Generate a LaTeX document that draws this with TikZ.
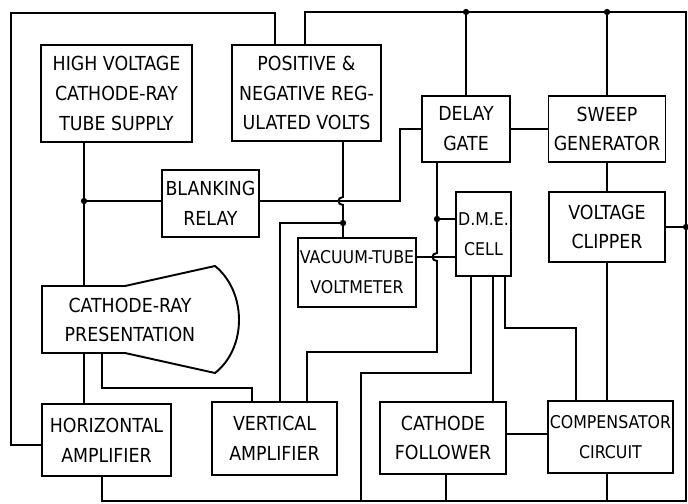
\documentclass[tikz,border=0pt]{standalone}
\usepackage{fontspec}
\setmainfont{DejaVu Sans Condensed}
\usetikzlibrary{calc}

\tikzset{
  blockbox/.style 2 args={draw, align=center, inner sep=1pt,
    minimum width=#1*0.02cm, minimum height=#2*0.02cm,
    font=\fontsize{11}{17}\selectfont},
  smalltext/.style={font=\fontsize{10}{17}\selectfont},
  jdot/.style={circle, fill, inner sep=0pt, minimum size=3.6pt},
}

\begin{document}
\begin{tikzpicture}[x=0.02cm, y=-0.02cm, line width=1.1pt]
  \useasboundingbox (0,0) rectangle (688,503);

  % blocks
  \node[blockbox={151}{97}] (hvs) at (116.5,93.5) {HIGH VOLTAGE\\CATHODE-RAY\\TUBE SUPPLY};
  \node[blockbox={149}{96}] (pnr) at (306.5,93) {POSITIVE \&\\NEGATIVE REG-\\ULATED VOLTS};
  \node[blockbox={88}{66}]  (dly) at (466,129) {DELAY\\GATE};
  \node[blockbox={117}{66}] (swp) at (607,129) {SWEEP\\GENERATOR};
  \node[blockbox={97}{67}]  (blk) at (210.5,203.5) {BLANKING\\RELAY};
  \node[blockbox={53}{84}, smalltext] (dme) at (483.5,234) {D.M.E.\\CELL};
  \node[blockbox={116}{70}] (clp) at (607,227) {VOLTAGE\\CLIPPER};
  \node[blockbox={110}{69}, smalltext] (vtv) at (357,272.5) {VACUUM-TUBE\\VOLTMETER};
  \node[blockbox={129}{72}] (hor) at (106.5,440) {HORIZONTAL\\AMPLIFIER};
  \node[blockbox={125}{73}] (ver) at (274.5,438.5) {VERTICAL\\AMPLIFIER};
  \node[blockbox={126}{72}] (cfl) at (443,438) {CATHODE\\FOLLOWER};
  \node[blockbox={125}{72}, smalltext] (cmp) at (610.5,437) {COMPENSATOR\\CIRCUIT};

  % cathode-ray tube outline
  \coordinate (c1) at (42,286);
  \coordinate (c2) at (125,286);
  \coordinate (c3) at (215,266);
  \coordinate (c4) at (215,373);
  \coordinate (c5) at (125,353);
  \coordinate (c6) at (42,353);
  \draw (c1) -- (c2) -- (c3) .. controls (247,292) and (247,348) .. (c4) -- (c5) -- (c6) -- cycle;
  \node[align=center, font=\fontsize{11}{17}\selectfont] (crt) at (130,320) {CATHODE-RAY\\PRESENTATION};

  % bends and junctions
  \coordinate (jhv) at (84,201);
  \coordinate (jpn) at (343,223);
  \coordinate (jvl) at (280,223);
  \coordinate (jdl) at (437,219);
  \coordinate (hop1) at (343,201);
  \coordinate (hop2) at (437,257);
  \coordinate (bk1) at (400,201);
  \coordinate (bk2) at (400,129);
  \coordinate (dv1) at (437,352);
  \coordinate (dv2) at (307,352);
  \coordinate (cr1) at (102,388);
  \coordinate (cr2) at (252,388);
  \coordinate (dm1) at (471,373);
  \coordinate (dm2) at (361,373);
  \coordinate (dm3) at (361,501);
  \coordinate (dm4) at (505,328);
  \coordinate (dm5) at (576,328);
  \coordinate (lp1) at (11,445);
  \coordinate (lp2) at (11,13);
  \coordinate (lp3) at (275,13);
  \coordinate (bs1) at (305,12);
  \coordinate (bs2) at (686,12);
  \coordinate (bs3) at (686,501);
  \coordinate (bs4) at (102,501);
  \coordinate (clr) at (686,227);

  % outer loop and supply bus
  \draw (hor.west |- lp1) -- (lp1) -- (lp2) -- (lp3) -- (pnr.north -| lp3);
  \draw (pnr.north -| bs1) -- (bs1) -- (bs2) -- (bs3) -- (bs4) -- (hor.south -| bs4);
  \draw (dly.north) -- (dly.north |- bs1);
  \draw (swp.north) -- (swp.north |- bs1);

  % supply side
  \draw (hvs.south -| jhv) -- (jhv) -- (jhv |- c1);
  \draw (jhv) -- (blk.west |- jhv);
  \draw (blk.east |- bk1) -- (bk1) -- (bk2) -- (dly.west |- bk2);
  \draw (pnr.south -| jpn) -- ($(hop1)+(0,-4)$) .. controls +(-6,0) and +(-6,0) .. ($(hop1)+(0,4)$) -- (jpn) -- (vtv.north -| jpn);
  \draw (jpn) -- (jvl) -- (ver.north -| jvl);

  % gate and D.M.E. cell
  \draw (dly.east) -- (swp.west);
  \draw (dly.south -| jdl) -- (jdl) -- ($(hop2)+(0,-4)$) .. controls +(-6,0) and +(-6,0) .. ($(hop2)+(0,4)$) -- (dv1) -- (dv2) -- (ver.north -| dv2);
  \draw (jdl) -- (dme.west |- jdl);
  \draw (vtv.east |- hop2) -- (dme.west |- hop2);
  \draw (dme.south -| dm1) -- (dm1) -- (dm2) -- (dm3);
  \draw (dme.south -| 493,0) -- (cfl.north -| 493,0);
  \draw (dme.south -| dm4) -- (dm4) -- (dm5) -- (cmp.north -| dm5);

  % sweep chain
  \draw (swp.south) -- (clp.north);
  \draw (clp.east) -- (clr);
  \draw (clp.south) -- (cmp.north -| clp.south);
  \draw (cfl.east |- 0,434) -- (cmp.west |- 0,434);
  \draw (cfl.south -| 446,0) -- (bs3 -| 446,0);
  \draw (cmp.south -| clp.south) -- (bs3 -| clp.south);

  % tube leads
  \draw (jhv |- c6) -- (hor.north -| jhv);
  \draw (cr1 |- c6) -- (cr1) -- (cr2) -- (ver.north -| cr2);

  % junction dots
  \foreach \j in {jhv, jpn, jdl, clr}
    \node[jdot] at (\j) {};
  \node[jdot] at (dly.north |- bs1) {};
  \node[jdot] at (swp.north |- bs1) {};
\end{tikzpicture}
\end{document}
